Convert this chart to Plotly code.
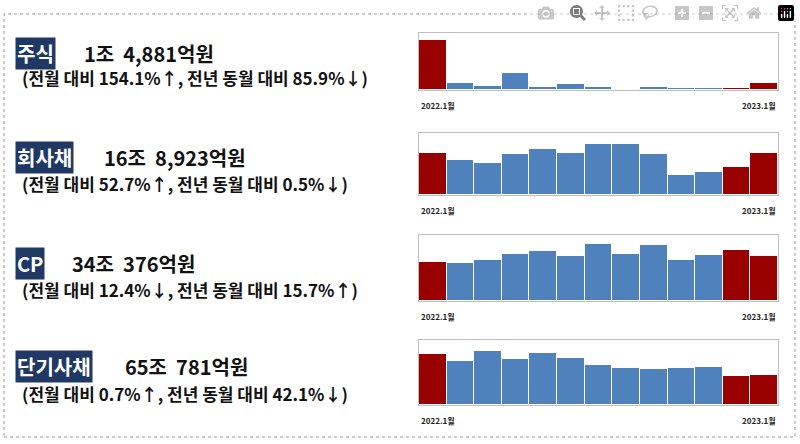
import plotly.graph_objects as go

# 월별 발행액 (억원), 2022.1월 ~ 2023.1월
months = ['2022.1', '2022.2', '2022.3', '2022.4', '2022.5', '2022.6', '2022.7',
          '2022.8', '2022.9', '2022.10', '2022.11', '2022.12', '2023.1']
stock = [107800, 14200, 9200, 35500, 6400, 12800, 6400, 2100, 6400, 3500, 5000, 5000, 14881]
corp_bond = [168900, 140500, 128300, 164800, 186400, 167500, 206700, 205400, 164800, 82400, 94600, 112100, 168923]
cp = [294600, 287000, 309900, 360700, 381000, 342900, 434300, 360700, 426700, 309900, 348000, 386100, 340376]
short_bond = [1113600, 947300, 1171400, 990600, 1135300, 1012300, 875000, 809900, 788200, 809900, 824300, 636300, 650781]

names = ['주식', '회사채', 'CP', '단기사채']
totals = ['1조  4,881억원', '16조  8,923억원', '34조  376억원', '65조  781억원']
notes = ['(전월 대비 154.1%↑, 전년 동월 대비 85.9%↓)',
         '(전월 대비 52.7%↑, 전년 동월 대비 0.5%↓)',
         '(전월 대비 12.4%↓, 전년 동월 대비 15.7%↑)',
         '(전월 대비 0.7%↑, 전년 동월 대비 42.1%↓)']
series = [stock, corp_bond, cp, short_bond]
ymax = [122000, 250000, 503000, 1410000]

RED = '#990000'
BLUE = '#4F81BD'
FONT = 'Noto Sans CJK KR'
W, H = 800, 444

# 패널 위치 (픽셀, 위/아래)
panels = [(33, 90), (133, 195), (235, 301), (340, 405)]
rows = [(53, 78), (158, 183), (263, 289), (366, 393)]
total_x = [82, 102, 70, 123]
x0, x1 = 419 / W, 778 / W

fig = go.Figure()
annotations = []
shapes = []
for i, vals in enumerate(series):
    colors = [RED if (j == 0 or j >= len(vals) - 2) else BLUE for j in range(len(vals))]
    xa = 'x' if i == 0 else f'x{i + 1}'
    ya = 'y' if i == 0 else f'y{i + 1}'
    fig.add_trace(go.Bar(x=months, y=vals, marker=dict(color=colors, line=dict(color='white', width=1)),
                         xaxis=xa, yaxis=ya, showlegend=False, hoverinfo='x+y'))
    top, bot = panels[i]
    dom_y = [1 - bot / H, 1 - top / H]
    suffix = '' if i == 0 else str(i + 1)
    fig.layout['xaxis' + suffix] = dict(domain=[x0, x1], showticklabels=False, showgrid=False,
                                        zeroline=False, anchor=ya, mirror=True,
                                        showline=True, linecolor='#BFBFBF', linewidth=1)
    fig.layout['yaxis' + suffix] = dict(domain=dom_y, range=[0, ymax[i]], showticklabels=False,
                                        showgrid=False, zeroline=False, anchor=xa, mirror=True,
                                        showline=True, linecolor='#BFBFBF', linewidth=1)
    ly = 1 - (bot + 15) / H
    annotations.append(dict(x=x0, y=ly, xref='paper', yref='paper', xanchor='left', yanchor='middle',
                            text='<b>2022.1월</b>', showarrow=False, font=dict(family=FONT, size=8, color='#222')))
    annotations.append(dict(x=x1, y=ly, xref='paper', yref='paper', xanchor='right', yanchor='middle',
                            text='<b>2023.1월</b>', showarrow=False, font=dict(family=FONT, size=8, color='#222')))

    ty, ny = rows[i]
    annotations.append(dict(x=15 / W, y=1 - ty / H, xref='paper', yref='paper', xanchor='left', yanchor='middle',
                            text=f'<b>{names[i]}</b>', showarrow=False, bgcolor='#1F3864', borderpad=1,
                            font=dict(family=FONT, size=20, color='white')))
    annotations.append(dict(x=total_x[i] / W, y=1 - ty / H, xref='paper', yref='paper',
                            xanchor='left', yanchor='middle', text=f'<b>{totals[i]}</b>', showarrow=False,
                            font=dict(family=FONT, size=20, color='#111')))
    annotations.append(dict(x=20 / W, y=1 - ny / H, xref='paper', yref='paper', xanchor='left', yanchor='middle',
                            text=f'<b>{notes[i]}</b>', showarrow=False,
                            font=dict(family=FONT, size=17, color='#111')))

shapes.append(dict(type='rect', xref='paper', yref='paper', x0=4 / W, x1=795 / W, y0=1 - 437 / H, y1=1 - 14 / H,
                   line=dict(color='#999', width=1, dash='dot')))

fig.update_layout(width=W, height=H, margin=dict(l=0, r=0, t=0, b=0), bargap=0,
                  plot_bgcolor='white', paper_bgcolor='white',
                  annotations=annotations, shapes=shapes)

fig.write_html('out.html', post_script="document.body.style.margin='0';")
